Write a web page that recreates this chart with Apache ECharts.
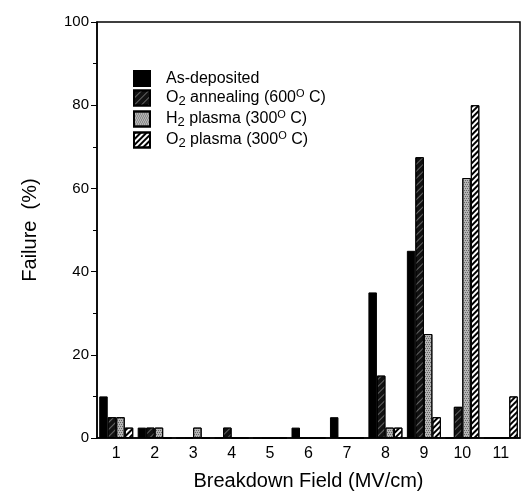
<!DOCTYPE html>
<html>
<head>
<meta charset="utf-8">
<script src="https://cdn.jsdelivr.net/npm/echarts@6/dist/echarts.min.js"></script>
<style>
  html, body { margin: 0; padding: 0; background: #fff; }
  #chart { width: 522px; height: 502px; }
</style>
</head>
<body>
<div id="chart"></div>
<script>
// breakdown field categories (MV/cm)
var fields = ['1', '2', '3', '4', '5', '6', '7', '8', '9', '10', '11'];
// failure (%) per treatment
var asDeposited = [10, 2.5, 0, 0, 0, 2.5, 5, 35, 45, 0, 0];
var o2Annealing = [5, 2.5, 0, 2.5, 0, 0, 0, 15, 67.5, 7.5, 0];
var h2Plasma = [5, 2.5, 2.5, 0, 0, 0, 0, 2.5, 25, 62.5, 0];
var o2Plasma = [2.5, 0, 0, 0, 0, 0, 0, 2.5, 5, 80, 10];

var font = '"Liberation Sans", Arial, sans-serif';

function bar(name, data, color, decal) {
  return {
    name: name,
    type: 'bar',
    data: data,
    barWidth: 8.5,
    barGap: '0%',
    itemStyle: { color: color, borderColor: '#000', borderWidth: 1, decal: decal },
    emphasis: { disabled: true }
  };
}

var chart = echarts.init(document.getElementById('chart'));
chart.setOption({
  animation: false,
  textStyle: { fontFamily: font, color: '#000' },
  grid: { left: 97, right: 2, top: 22, bottom: 64, show: true, borderColor: '#000', borderWidth: 1.5 },
  legend: {
    orient: 'vertical',
    left: 128,
    top: 65,
    icon: 'rect',
    itemWidth: 16,
    itemHeight: 15,
    itemGap: 1,
    textStyle: {
      fontSize: 16,
      color: '#000',
      padding: [0, 0, 0, 11],
      rich: {
        n: { fontSize: 16, fontFamily: font, lineHeight: 20 },
        sub: { fontSize: 13, fontFamily: font, lineHeight: 13, verticalAlign: 'bottom' },
        sup: { fontSize: 11, fontFamily: font, lineHeight: 11, verticalAlign: 'top' }
      }
    },
    formatter: function (name) {
      return {
        'As-deposited': '{n|As-deposited}',
        'O2 annealing': '{n|O}{sub|2}{n| annealing (600}{sup|O}{n| C)}',
        'H2 plasma': '{n|H}{sub|2}{n| plasma (300}{sup|O}{n| C)}',
        'O2 plasma': '{n|O}{sub|2}{n| plasma (300}{sup|O}{n| C)}'
      }[name];
    }
  },
  xAxis: {
    type: 'category',
    data: fields,
    name: 'Breakdown Field (MV/cm)',
    nameLocation: 'middle',
    nameGap: 33,
    nameTextStyle: { fontSize: 20, color: '#000' },
    axisLine: { lineStyle: { color: '#000', width: 1.5 } },
    axisTick: { length: 5, lineStyle: { color: '#000' } },
    axisLabel: { fontSize: 16, color: '#000', margin: 8 }
  },
  yAxis: {
    type: 'value',
    min: 0,
    max: 100,
    interval: 20,
    name: 'Failure  (%)',
    nameLocation: 'middle',
    nameGap: 57,
    nameTextStyle: { fontSize: 20, color: '#000' },
    axisLine: { show: true, lineStyle: { color: '#000', width: 1.5 } },
    axisTick: { show: true, length: 6, lineStyle: { color: '#000' } },
    minorTick: { show: true, splitNumber: 2, length: 4, lineStyle: { color: '#000' } },
    splitLine: { show: false },
    axisLabel: { fontSize: 15, color: '#000', margin: 8 }
  },
  series: [
    bar('As-deposited', asDeposited, '#000', null),
    bar('O2 annealing', o2Annealing, '#111', {
      symbol: 'rect', symbolSize: 1, color: 'rgba(255,255,255,0.35)',
      dashArrayX: [[1, 0]], dashArrayY: [1, 4], rotation: -Math.PI / 4
    }),
    bar('H2 plasma', h2Plasma, '#b4b4b4', {
      symbol: 'rect', symbolSize: 1, color: '#666',
      dashArrayX: [[1, 1], [0, 1, 1, 0]], dashArrayY: [1, 1]
    }),
    bar('O2 plasma', o2Plasma, '#fff', {
      symbol: 'rect', symbolSize: 1, color: '#000',
      dashArrayX: [[1, 0]], dashArrayY: [2, 2], rotation: -Math.PI / 4
    })
  ]
});
</script>
</body>
</html>
